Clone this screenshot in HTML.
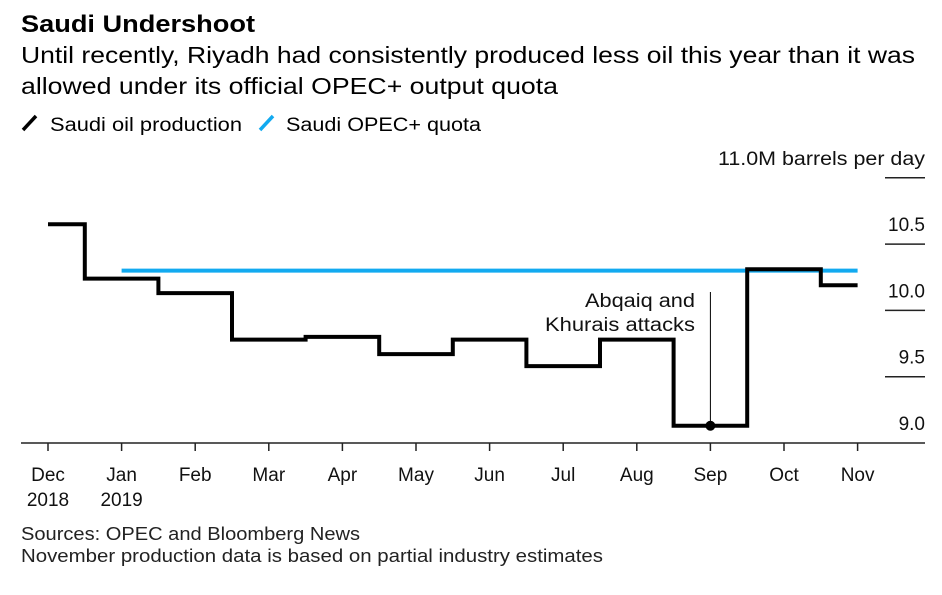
<!DOCTYPE html>
<html><head><meta charset="utf-8"><style>
body{margin:0;background:#fff;font-family:"Liberation Sans",Arial,sans-serif;}
svg text{font-family:"Liberation Sans",Arial,sans-serif;}
</style></head><body>
<svg width="942" height="590" xmlns="http://www.w3.org/2000/svg">
<text x="21" y="32" font-size="24" font-weight="bold" fill="#000" textLength="234" lengthAdjust="spacingAndGlyphs">Saudi Undershoot</text>
<text x="21" y="63" font-size="23.5" fill="#000" textLength="894" lengthAdjust="spacingAndGlyphs">Until recently, Riyadh had consistently produced less oil this year than it was</text>
<text x="21" y="94" font-size="23.5" fill="#000" textLength="537" lengthAdjust="spacingAndGlyphs">allowed under its official OPEC+ output quota</text>
<g>
<line x1="23" y1="130" x2="36" y2="116" stroke="#000" stroke-width="3.5"/>
<text x="50" y="131" font-size="19" textLength="192" lengthAdjust="spacingAndGlyphs">Saudi oil production</text>
<line x1="260" y1="130" x2="273" y2="116" stroke="#12aaf0" stroke-width="3.5"/>
<text x="286" y="131" font-size="19" textLength="195" lengthAdjust="spacingAndGlyphs">Saudi OPEC+ quota</text>
</g>
<g id="yaxis"></g>
<g id="xaxis"></g>
<g id="series"></g>
<text x="21" y="540" font-size="18" fill="#222" textLength="339" lengthAdjust="spacingAndGlyphs">Sources: OPEC and Bloomberg News</text>
<text x="21" y="562" font-size="18" fill="#222" textLength="582" lengthAdjust="spacingAndGlyphs">November production data is based on partial industry estimates</text>
</svg>
<script>
const months = ["Dec","Jan","Feb","Mar","Apr","May","Jun","Jul","Aug","Sep","Oct","Nov"];
const years = ["2018","2019","","","","","","","","","",""];
const production = [10.65,10.24,10.13,9.78,9.80,9.67,9.78,9.58,9.78,9.13,10.31,10.19];
const quota = [null,10.30,10.30,10.30,10.30,10.30,10.30,10.30,10.30,10.30,10.30,10.30];
const yTicks = [9.0,9.5,10.0,10.5,11.0];
const yTickLabels = ["9.0","9.5","10.0","10.5","11.0M barrels per day"];
const annotationIndex = 9;

const NS="http://www.w3.org/2000/svg";
function x(i){return 48+i*73.6;}
function y(v){return 443-(v-9)*132.6;}
function mk(tag,attrs,parent,txt){const e=document.createElementNS(NS,tag);for(const k in attrs)e.setAttribute(k,attrs[k]);if(txt!==undefined)e.textContent=txt;parent.appendChild(e);return e;}
const ya=document.getElementById('yaxis'),xa=document.getElementById('xaxis'),sr=document.getElementById('series');
yTicks.forEach((t,i)=>{
  if(i>0){const l=mk('line',{x1:885,x2:925,y1:y(t),y2:y(t),stroke:'#222','stroke-width':1.5},ya);
  
  }
  const at={x:925,y:y(t)-13,'font-size':19,'text-anchor':'end',fill:'#111'};
  if(i==yTicks.length-1){at.textLength=207;at.lengthAdjust='spacingAndGlyphs';}
  const tx=mk('text',at,ya,yTickLabels[i]);
  
  
});
const ax=mk('line',{x1:21,x2:925,y1:443,y2:443,stroke:'#222','stroke-width':1.5},xa);


months.forEach((m,i)=>{
  const t=mk('line',{x1:x(i),x2:x(i),y1:443,y2:451,stroke:'#222','stroke-width':1.5},xa);
  
  
  const l=mk('text',{x:x(i),y:481,'font-size':19,'text-anchor':'middle',fill:'#111'},xa,m);
  
  
  if(years[i]){const yl=mk('text',{x:x(i),y:506,'font-size':19,'text-anchor':'middle',fill:'#111'},xa,years[i]);
  
  }
});
let qs=null,qe=null;quota.forEach((v,i)=>{if(v!==null){if(qs===null)qs=i;qe=i;}});
let qd='';for(let i=qs;i<=qe;i++){const x0=i==qs?x(i):x(i)-36.8,x1=i==qe?x(i):x(i)+36.8;qd+=(i==qs?'M':'L')+x0+' '+y(quota[i])+' L'+x1+' '+y(quota[i])+' ';}
const q=mk('path',{d:qd,fill:'none',stroke:'#12aaf0','stroke-width':4},sr);


let pd='';const n=production.length;
production.forEach((v,i)=>{const x0=i==0?x(i):x(i)-36.8,x1=i==n-1?x(i):x(i)+36.8;pd+=(i==0?'M':'L')+x0+' '+y(v)+' L'+x1+' '+y(v)+' ';});
const p=mk('path',{d:pd,fill:'none',stroke:'#000','stroke-width':4,'stroke-linejoin':'miter'},sr);


const ai=annotationIndex;
const al=mk('line',{x1:x(ai),x2:x(ai),y1:292,y2:y(production[ai]),stroke:'#000','stroke-width':1},sr);


const dot=mk('circle',{cx:x(ai),cy:y(production[ai]),r:5,fill:'#000'},sr);


const a1=mk('text',{x:695,y:307,'font-size':19,'text-anchor':'end',fill:'#111',textLength:110,lengthAdjust:'spacingAndGlyphs'},sr,'Abqaiq and');


const a2=mk('text',{x:695,y:331,'font-size':19,'text-anchor':'end',fill:'#111',textLength:150,lengthAdjust:'spacingAndGlyphs'},sr,'Khurais attacks');


</script>
</body></html>
